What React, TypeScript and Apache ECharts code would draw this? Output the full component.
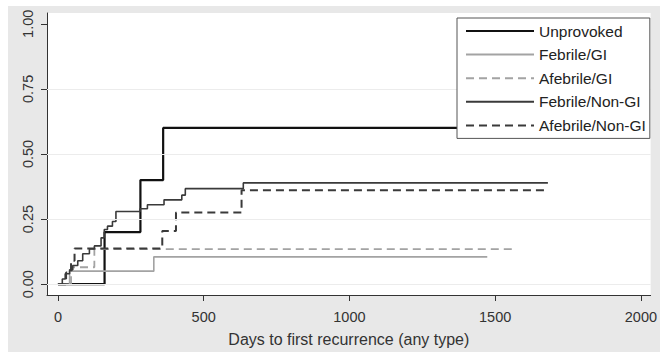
import React, { useEffect, useRef } from "react";
import * as echarts from "echarts";

const seriesNames = ["Unprovoked", "Febrile/GI", "Afebrile/GI", "Febrile/Non-GI", "Afebrile/Non-GI"];

const unprovoked: [number, number][] = [
  [0, 0], [160, 0.2], [283, 0.4], [361, 0.6], [1650, 0.6],
];
const febrileGI: [number, number][] = [
  [0, 0], [40, 0.05], [329, 0.105], [1473, 0.105],
];
const afebrileGI: [number, number][] = [
  [0, 0], [45, 0.065], [125, 0.135], [1573, 0.135],
];
const febrileNonGI: [number, number][] = [
  [0, 0], [15, 0.02], [25, 0.04], [40, 0.055], [51, 0.072], [68, 0.09], [85, 0.117],
  [108, 0.135], [125, 0.147], [148, 0.178], [159, 0.21], [170, 0.223], [187, 0.241],
  [199, 0.279], [282, 0.29], [307, 0.305], [364, 0.324], [425, 0.342], [437, 0.367],
  [636, 0.389], [1681, 0.389],
];
const afebrileNonGI: [number, number][] = [
  [0, 0], [28, 0.045], [45, 0.09], [57, 0.137], [358, 0.204], [405, 0.275],
  [630, 0.361], [1670, 0.361],
];

const xTicks = [0, 500, 1000, 1500, 2000];
const yTicks = [0, 0.25, 0.5, 0.75, 1];
const gridLines = [0, 0.25, 0.5, 0.75];
const xTitle = "Days to first recurrence (any type)";

const FONT = "Liberation Sans, Arial, sans-serif";

export default function App() {
  const ref = useRef<HTMLDivElement>(null);
  useEffect(() => {
    if (!ref.current) return;
    const chart = echarts.init(ref.current, undefined, { renderer: "svg" });
    const styles = [
      { color: "#111", width: 2.2, type: "solid" },
      { color: "#a3a3a3", width: 1.6, type: "solid" },
      { color: "#a3a3a3", width: 1.8, type: [8, 5] },
      { color: "#3a3a3a", width: 1.6, type: "solid" },
      { color: "#3a3a3a", width: 2, type: [8, 5] },
    ];
    const datasets = [unprovoked, febrileGI, afebrileGI, febrileNonGI, afebrileNonGI];
    const series: any[] = datasets.map((d, i) => ({
      name: seriesNames[i],
      type: "line",
      step: "end",
      data: d,
      symbol: "none",
      lineStyle: { color: styles[i].color, width: styles[i].width, type: styles[i].type },
      itemStyle: { color: styles[i].color },
      z: 3,
    }));
    series.push({
      type: "line",
      data: [],
      silent: true,
      markLine: {
        silent: true,
        symbol: "none",
        label: { show: false },
        lineStyle: { color: "#ececec", width: 1, type: "solid" },
        data: gridLines.map((v) => ({ yAxis: v })),
      },
      z: 1,
    });
    chart.setOption({
      animation: false,
      backgroundColor: "#e8e8e8",
      textStyle: { fontFamily: FONT },
      grid: {
        left: 39,
        top: 7,
        width: 608,
        height: 287,
        show: true,
        backgroundColor: "#ffffff",
        borderWidth: 0,
      },
      legend: {
        data: seriesNames,
        orient: "vertical",
        left: 449,
        top: 12,
        selectedMode: false,
        backgroundColor: "#ffffff",
        borderColor: "#555",
        borderWidth: 1,
        padding: [5, 4, 5, 8],
        itemWidth: 68,
        itemHeight: 14,
        itemGap: 7.6,
        itemStyle: { opacity: 0 },
        textStyle: { fontSize: 15.5, color: "#222", fontFamily: FONT, lineHeight: 16 },
        z: 10,
      },
      xAxis: {
        type: "value",
        min: -37.5,
        max: 2033.5,
        splitLine: { show: false },
        axisLine: { show: true, onZero: false, lineStyle: { color: "#333", width: 1 } },
        axisTick: { show: true, length: 6, customValues: xTicks, lineStyle: { color: "#333" } },
        axisLabel: {
          customValues: xTicks,
          fontSize: 14.5,
          color: "#333",
          margin: 14,
          fontFamily: FONT,
          formatter: (v: number) => String(v),
        },
        name: xTitle,
        nameLocation: "middle",
        nameGap: 36,
        nameTextStyle: { fontSize: 16, color: "#333", fontFamily: FONT },
      },
      yAxis: {
        type: "value",
        min: -0.0415,
        max: 1.0415,
        splitLine: { show: false },
        axisLine: { show: true, onZero: false, lineStyle: { color: "#333", width: 1 } },
        axisTick: { show: true, length: 6, customValues: yTicks, lineStyle: { color: "#333" } },
        axisLabel: {
          customValues: yTicks,
          rotate: 90,
          fontSize: 14.5,
          color: "#333",
          margin: 12,
          fontFamily: FONT,
          formatter: (v: number) => v.toFixed(2),
        },
      },
      series,
    });
    return () => chart.dispose();
  }, []);
  return (
    <div style={{ position: "fixed", left: 0, top: 0, width: 660, height: 358, background: "#fff" }}>
      <div ref={ref} style={{ position: "absolute", left: 8, top: 6, width: 652, height: 346 }} />
    </div>
  );
}
